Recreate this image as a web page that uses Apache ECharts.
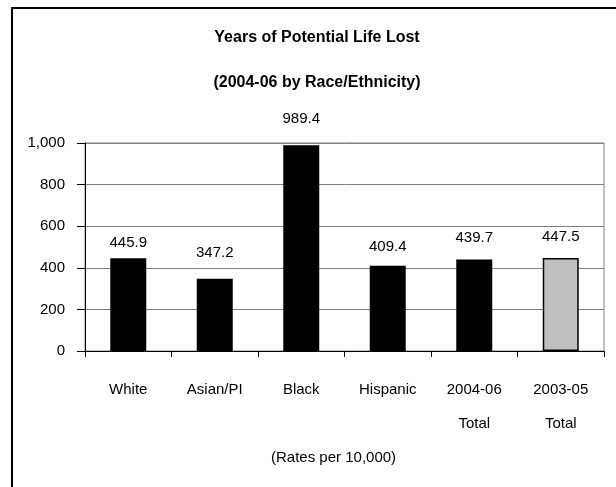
<!DOCTYPE html>
<html>
<head>
<meta charset="utf-8">
<script src="https://cdn.jsdelivr.net/npm/echarts@6/dist/echarts.min.js"></script>
<style>
  html, body { margin: 0; padding: 0; background: #fff; }
  #chart { width: 616px; height: 487px; }
</style>
</head>
<body>
<div id="chart"></div>
<script>
// Years of potential life lost, rates per 10,000
const categories = ['White', 'Asian/PI', 'Black', 'Hispanic', '2004-06\nTotal', '2003-05\nTotal'];
const rates = [445.9, 347.2, 989.4, 409.4, 439.7, 447.5];
const yTicks = [0, 200, 400, 600, 800, 1000];

const FONT = "'Liberation Sans', Arial, sans-serif";

// gap in px between each bar top and its value label
const labelGaps = [8, 18, 19, 11, 14, 14];

const chart = echarts.init(document.getElementById('chart'), null, { renderer: 'canvas' });

const barData = rates.map((v, i) => ({
  value: v,
  label: { distance: labelGaps[i] },
  itemStyle: i === rates.length - 1
    ? { color: '#c0c0c0', borderColor: '#000', borderWidth: 1.5 }
    : { color: '#000' }
}));

chart.setOption({
  backgroundColor: '#fff',
  animation: false,
  title: {
    text: 'Years of Potential Life Lost\n(2004-06 by Race/Ethnicity)',
    left: 312,
    textAlign: 'center',
    top: 10,
    textStyle: { fontFamily: FONT, fontWeight: 'bold', fontSize: 16, lineHeight: 45, color: '#000' }
  },
  graphic: [
    {
      type: 'rect',
      shape: { x: 12, y: 8, width: 640, height: 520 },
      style: { fill: 'none', stroke: '#000', lineWidth: 2 },
      silent: true
    },
    {
      type: 'text',
      left: 271,
      top: 450,
      style: {
        text: '(Rates per 10,000)',
        font: '15px ' + FONT,
        fill: '#000',
        textAlign: 'center'
      }
    }
  ],
  grid: {
    left: 85, right: 12, top: 143, bottom: 136,
    show: true, borderColor: '#808080', borderWidth: 1
  },
  xAxis: {
    type: 'category',
    data: categories,
    axisLine: { lineStyle: { color: '#000', width: 1 } },
    axisTick: { show: true, length: 6, lineStyle: { color: '#000' } },
    axisLabel: {
      fontFamily: FONT, fontSize: 15, color: '#000',
      margin: 22, lineHeight: 34, interval: 0
    }
  },
  yAxis: {
    type: 'value',
    min: yTicks[0],
    max: yTicks[yTicks.length - 1],
    interval: 200,
    axisLine: { show: true, lineStyle: { color: '#000', width: 1 } },
    axisTick: { show: true, length: 8, lineStyle: { color: '#000' } },
    splitLine: { lineStyle: { color: '#808080', width: 1 } },
    axisLabel: {
      fontFamily: FONT, fontSize: 15, color: '#000', margin: 20,
      formatter: v => v.toLocaleString('en-US')
    }
  },
  series: [{
    type: 'bar',
    data: barData,
    barWidth: 36,
    label: {
      show: true,
      position: 'top',
      fontFamily: FONT,
      fontSize: 15,
      color: '#000',
      formatter: p => p.value.toFixed(1)
    }
  }]
});
</script>
</body>
</html>
